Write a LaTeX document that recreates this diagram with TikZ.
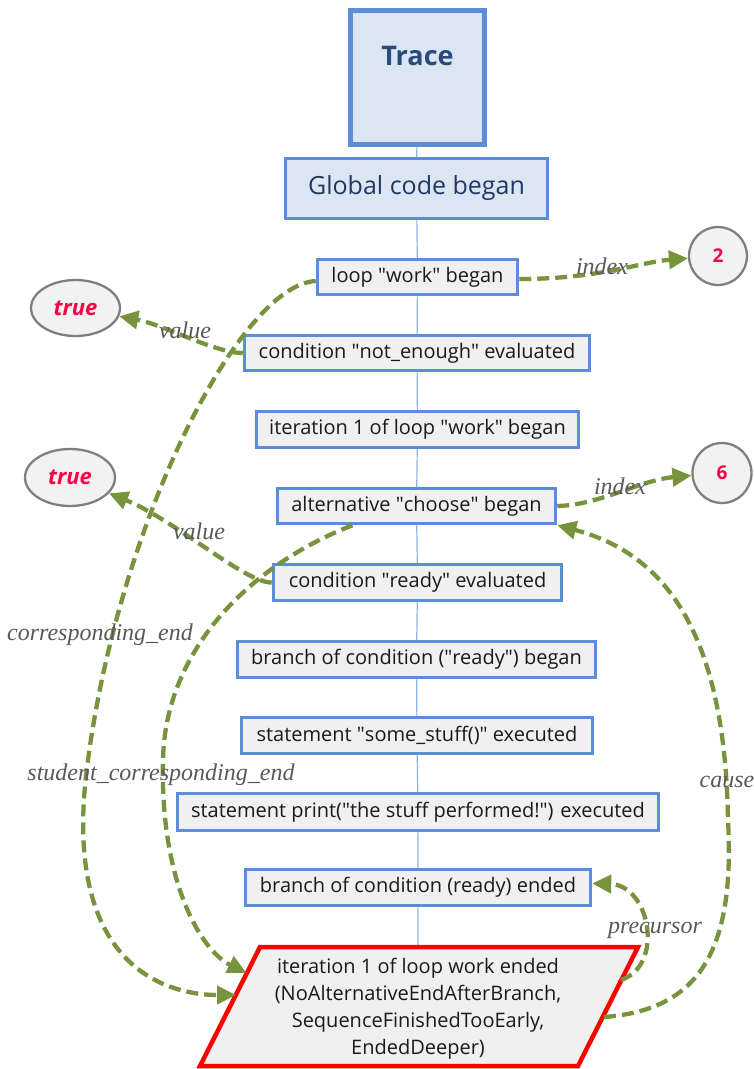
\documentclass[tikz,border=0pt]{standalone}
\usepackage{fontspec}
\setmainfont{Open Sans}
\newfontfamily\lblfont{Liberation Serif}
\usetikzlibrary{arrows.meta,shapes.geometric}
\definecolor{boxblue}{HTML}{5B8ED6}
\definecolor{boxgray}{HTML}{F0F0F0}
\definecolor{headfill}{HTML}{DCE6F2}
\definecolor{headtext}{HTML}{2A4A7A}
\definecolor{globtext}{HTML}{1F3864}
\definecolor{txtdark}{HTML}{1A1A1A}
\definecolor{relgreen}{HTML}{77933C}
\definecolor{lblgray}{HTML}{595959}
\definecolor{circgray}{HTML}{7F7F7F}
\definecolor{circfill}{HTML}{F2F2F2}
\definecolor{valred}{HTML}{FF0044}
\definecolor{vline}{HTML}{8DB3E2}
\newcommand\dq{\textquotedbl}
\begin{document}
\begin{tikzpicture}[x=1pt,y=-1pt,
  evbox/.style={draw=boxblue, line width=3.5pt, fill=boxgray, text=txtdark,
    font=\fontsize{20}{24}\selectfont, inner sep=0pt},
  relarrow/.style={draw=relgreen, line width=4.3pt, dash pattern=on 12pt off 6pt,
    -{Triangle[length=19pt,width=18pt]}},
  rellbl/.style={font=\lblfont\itshape\fontsize{24}{26}\selectfont, text=lblgray, inner sep=0pt},
  valnode/.style={ellipse, draw=circgray, line width=2.3pt, fill=circfill, inner sep=0pt,
    text=valred, font=\bfseries\fontsize{22}{24}\selectfont},
  seqline/.style={draw=vline, line width=1.2pt}
]
\useasboundingbox (0,0) rectangle (753,1069);

% head nodes
\node[draw=boxblue, line width=5pt, fill=headfill, text=headtext, inner sep=0pt,
  minimum width=134pt, minimum height=134pt, font=\bfseries\fontsize{27}{30}\selectfont]
  (trace) at (417.5,77.5) {\raisebox{12pt}[0pt][0pt]{Trace}};
\node[draw=boxblue, line width=3pt, fill=headfill, text=globtext, inner sep=0pt,
  minimum width=262pt, minimum height=60pt, font=\fontsize{25}{28}\selectfont]
  (glob) at (416.5,188.5) {Global code began};

% event nodes
\node[evbox, minimum width=200pt, minimum height=35pt] (loop) at (417.5,277) {loop \dq work\dq{} began};
\node[evbox, minimum width=345pt, minimum height=35pt] (nenough) at (417,353) {condition \dq not\_enough\dq{} evaluated};
\node[evbox, minimum width=322pt, minimum height=36pt] (iter) at (417.5,429.5) {iteration 1 of loop \dq work\dq{} began};
\node[evbox, minimum width=278pt, minimum height=35pt] (alt) at (416.5,506) {alternative \dq choose\dq{} began};
\node[evbox, minimum width=288pt, minimum height=36pt] (ready) at (417.5,582.5) {condition \dq ready\dq{} evaluated};
\node[evbox, minimum width=358pt, minimum height=36pt] (bbegan) at (416.5,659.5) {branch of condition (\dq ready\dq) began};
\node[evbox, minimum width=351pt, minimum height=36pt] (stuff) at (417,735.5) {statement \dq some\_stuff()\dq{} executed};
\node[evbox, minimum width=481pt, minimum height=37pt] (print) at (418,812) {statement print(\dq the stuff performed!\dq) executed};
\node[evbox, minimum width=345pt, minimum height=36pt] (bended) at (418,887.5) {branch of condition (ready) ended};

% final parallelogram
\coordinate (pTL) at (260,947);
\coordinate (pTR) at (638,947);
\coordinate (pBR) at (578,1066);
\coordinate (pBL) at (200,1066);
\coordinate (pTop) at (418,947);
\coordinate (pL1) at (246.5,973);
\coordinate (pL2) at (236,995);
\coordinate (pR1) at (621,980);
\coordinate (pR2) at (604,1017);
\draw[seqline] (trace) -- (glob) -- (loop) -- (nenough) -- (iter) -- (alt) -- (ready)
  -- (bbegan) -- (stuff) -- (print) -- (bended) -- (pTop);
\draw[draw=red, line width=4.5pt, fill=boxgray, line join=miter] (pTL) -- (pTR) -- (pBR) -- (pBL) -- cycle;
\node[text=txtdark, align=center, font=\fontsize{20}{27}\selectfont, inner sep=0pt] (pend) at (418,1009)
  {iteration 1 of loop work ended\\(NoAlternativeEndAfterBranch,\\SequenceFinishedTooEarly,\\EndedDeeper)};

% value nodes
\node[valnode, minimum width=89pt, minimum height=56pt] (t1) at (75.5,308) {\itshape true};
\node[valnode, minimum width=90pt, minimum height=57pt] (t2) at (70,477.5) {\itshape true};
\node[valnode, minimum width=58pt, minimum height=58pt, font=\bfseries\fontsize{19}{22}\selectfont] (c2) at (718,256) {2};
\node[valnode, minimum width=59pt, minimum height=60pt, font=\bfseries\fontsize{19}{22}\selectfont] (c6) at (722,473) {6};

% relations
\draw[relarrow] ([yshift=-2pt]loop.east) .. controls (600,279) and (640,262) .. (c2);
\draw[relarrow] (nenough.west) .. controls (215,353) and (165,325) .. (t1);
\draw[relarrow] (alt.east) .. controls (600,505) and (640,480) .. (c6);
\draw[relarrow] (ready.west) .. controls (245,583) and (175,520) .. (t2);
\draw[relarrow] ([yshift=-4pt]loop.west) .. controls (240,285) and (120,520) .. (88,760)
  .. controls (60,960) and (160,995) .. (pL2);
\draw[relarrow] ([xshift=-64pt]alt.south) .. controls (250,565) and (165,650) .. (163,760)
  .. controls (160,880) and (200,950) .. (pL1);
\draw[relarrow] (pR2) .. controls (700,1010) and (735,950) .. (728,820)
  .. controls (725,640) and (670,555) .. (alt.south east);
\draw[relarrow] (pR1) .. controls (665,965) and (650,885) .. ([yshift=4pt]bended.east);

% labels
\node[rellbl] (l1) at (602,266) {index};
\node[rellbl] (l2) at (185,330) {value};
\node[rellbl] (l3) at (620,486) {index};
\node[rellbl] (l4) at (199,531) {value};
\node[rellbl] (l5) at (100,635) {corresponding\_end};
\node[rellbl] (l6) at (161,775) {student\_corresponding\_end};
\node[rellbl] (l7) at (727,782) {cause};
\node[rellbl] (l8) at (655,930) {precursor};
\end{tikzpicture}
\end{document}
